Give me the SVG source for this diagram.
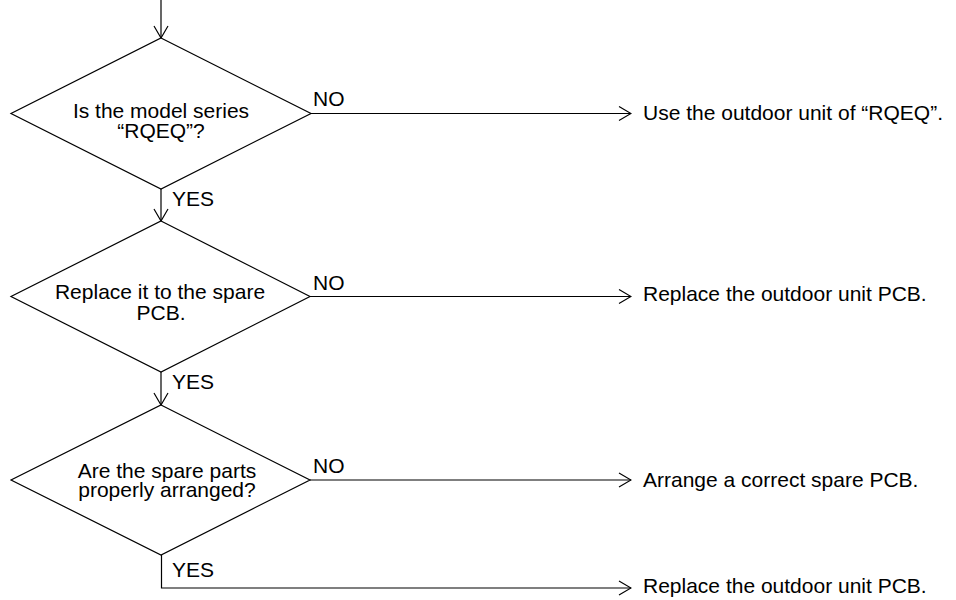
<svg xmlns="http://www.w3.org/2000/svg" width="956" height="600" viewBox="0 0 956 600">
<style>
  .shape { fill: #ffffff; stroke: #000000; stroke-width: 1.2; }
  .line { fill: none; stroke: #000000; stroke-width: 1.2; }
  text { font-family: "Liberation Sans", Arial, Helvetica, sans-serif; font-size: 21px; fill: #000000; }
  .c { text-anchor: middle; }
</style>
<defs>
  <marker id="arrow" viewBox="0 0 14 16" refX="13" refY="8" markerWidth="14" markerHeight="16" markerUnits="userSpaceOnUse" orient="auto">
    <path d="M1,1 L13,8 L1,15" fill="none" stroke="#000000" stroke-width="1.2"/>
  </marker>
</defs>
<rect x="0" y="0" width="956" height="600" fill="#ffffff"/>
<g id="connectors">
  <line class="line" x1="161" y1="0" x2="161" y2="38" marker-end="url(#arrow)"/>
  <line class="line" x1="311" y1="113.5" x2="631" y2="113.5" marker-end="url(#arrow)"/>
  <line class="line" x1="161" y1="189" x2="161" y2="221" marker-end="url(#arrow)"/>
  <line class="line" x1="310" y1="296.5" x2="631" y2="296.5" marker-end="url(#arrow)"/>
  <line class="line" x1="161" y1="372" x2="161" y2="405" marker-end="url(#arrow)"/>
  <line class="line" x1="310" y1="480" x2="631" y2="480" marker-end="url(#arrow)"/>
  <polyline class="line" points="161.5,555 161.5,588 631,588" marker-end="url(#arrow)"/>
  <text x="313" y="106">NO</text>
  <text x="172" y="206">YES</text>
  <text x="313" y="290">NO</text>
  <text x="172" y="389">YES</text>
  <text x="313" y="473">NO</text>
  <text x="172" y="577">YES</text>
</g>
<g id="decision1">
  <polygon class="shape" points="161,38 311,113.5 161,189 11,113.5"/>
  <text class="c" x="161" y="118">Is the model series</text>
  <text class="c" x="161" y="138">“RQEQ”?</text>
</g>
<g id="decision2">
  <polygon class="shape" points="161,221 310,296.5 161,372 11,296.5"/>
  <text class="c" x="160" y="299">Replace it to the spare</text>
  <text class="c" x="161" y="320">PCB.</text>
</g>
<g id="decision3">
  <polygon class="shape" points="161,405 310,480 161,555 11,480"/>
  <text class="c" x="167" y="478">Are the spare parts</text>
  <text class="c" x="167" y="497">properly arranged?</text>
</g>
<g id="result1">
  <text x="643" y="120">Use the outdoor unit of “RQEQ”.</text>
</g>
<g id="result2">
  <text x="643" y="301">Replace the outdoor unit PCB.</text>
</g>
<g id="result3">
  <text x="643" y="487">Arrange a correct spare PCB.</text>
</g>
<g id="result4">
  <text x="643" y="593">Replace the outdoor unit PCB.</text>
</g>
</svg>
